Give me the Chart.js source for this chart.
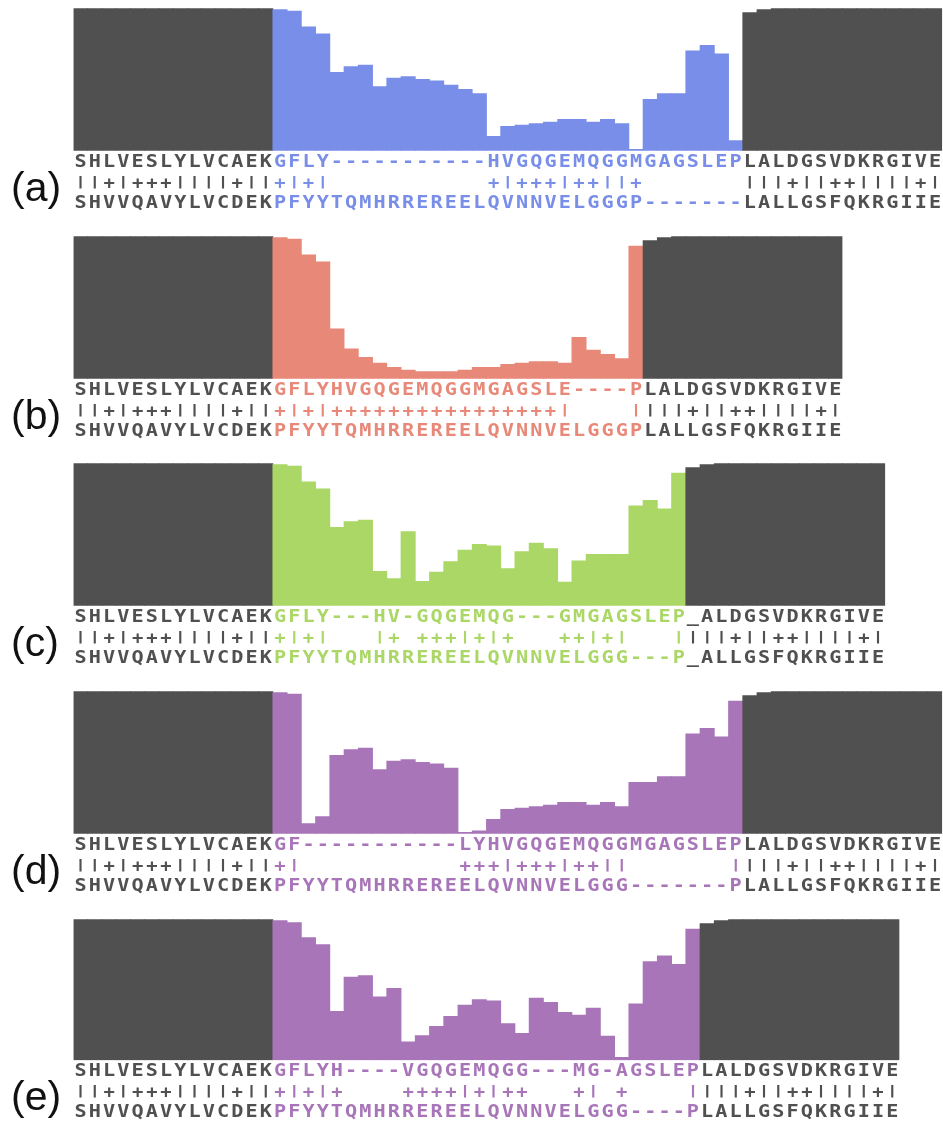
<!DOCTYPE html>
<html lang="en">
<head>
    <meta charset="UTF-8">
    <title>Alignment Profiles</title>
    <script src="https://cdn.jsdelivr.net/npm/chart.js"></script>
    <style>
        body {
            margin: 0;
            background: #fff;
            overflow: hidden;
        }
        #wrap {
            position: relative;
            width: 943px;
            height: 1124px;
        }
        canvas {
            position: absolute;
            left: 0;
        }
    </style>
</head>
<body>
    <div id="wrap"></div>

    <script>
        // panel labels and aligned sequences (one char per column)
        const panelLabels = ['(a)', '(b)', '(c)', '(d)', '(e)'];

        const seqTop = [
            'SHLVESLYLVCAEKGFLY-----------HVGQGEMQGGMGAGSLEPLALDGSVDKRGIVE',
            'SHLVESLYLVCAEKGFLYHVGQGEMQGGMGAGSLE----PLALDGSVDKRGIVE',
            'SHLVESLYLVCAEKGFLY---HV-GQGEMQG---GMGAGSLEP_ALDGSVDKRGIVE',
            'SHLVESLYLVCAEKGF-----------LYHVGQGEMQGGMGAGSLEPLALDGSVDKRGIVE',
            'SHLVESLYLVCAEKGFLYH----VGQGEMQGG---MG-AGSLEPLALDGSVDKRGIVE'
        ];
        const seqMatch = [
            '||+|+++||||+||+|+|           +|+++|++||+       |||+||++||||+|',
            '||+|+++||||+||+|+|++++++++++++++++|    ||||+||++||||+|',
            '||+|+++||||+||+|+|   |+ +++|+|+   ++|+|   ||||+||++||||+|',
            '||+|+++||||+||+|           +++|+++|++||       ||||+||++||||+|',
            '||+|+++||||+||+|+|+    ++++|+|++   +| +    ||||+||++||||+|'
        ];
        const seqBottom = [
            'SHVVQAVYLVCDEKPFYYTQMHRREREELQVNNVELGGGP-------LALLGSFQKRGIIE',
            'SHVVQAVYLVCDEKPFYYTQMHRREREELQVNNVELGGGPLALLGSFQKRGIIE',
            'SHVVQAVYLVCDEKPFYYTQMHRREREELQVNNVELGGG---P_ALLGSFQKRGIIE',
            'SHVVQAVYLVCDEKPFYYTQMHRREREELQVNNVELGGG-------PLALLGSFQKRGIIE',
            'SHVVQAVYLVCDEKPFYYTQMHRREREELQVNNVELGGG----PLALLGSFQKRGIIE'
        ];

        // bar heights (0-100) per column
        const flankLeft = [100, 100, 100, 100, 100, 100, 100, 100, 100, 100, 100, 100, 100, 100];
        const flankRight = [97, 99, 100, 100, 100, 100, 100, 100, 100, 100, 100, 100, 100, 100];

        const coreA = [99, 98, 87, 82, 55, 59, 60, 45, 51, 52, 50, 49, 46, 43, 40,
            10, 17, 18, 19, 20, 22, 22, 20, 22, 19, 1, 36, 40, 40, 70, 74, 68, 7];
        const coreB = [99, 98, 87, 82, 35, 21, 15, 11, 8, 6, 5, 5, 5, 6, 8, 8, 10,
            11, 12, 12, 11, 29, 20, 17, 14, 93];
        const coreC = [99, 98, 87, 82, 55, 59, 60, 24, 19, 52, 17, 23.5, 31, 39, 43,
            42, 26, 38, 44, 40, 16.5, 31.5, 36, 36, 36, 70, 74, 68, 93];
        const coreD = [99, 98, 7, 12, 55, 59, 60, 45, 51, 52, 50, 49, 46, 1, 2,
            10, 17, 18, 19, 20, 22, 22, 20, 22, 19, 36, 36, 40, 40, 70, 74, 68, 93];
        const coreE = [99, 97.7, 87, 82, 34.7, 59, 60, 45, 51, 13, 17.5, 24, 31, 39,
            43, 42, 26, 19, 44, 41, 34, 32, 37, 17, 2, 40, 70, 74, 68, 93];

        const cores = [coreA, coreB, coreC, coreD, coreE];
        const panelColors = ['#788ee8', '#e88878', '#aad766', '#a875b9', '#a875b9'];
        const flankColor = '#505050';
        const textGrey = '#505050';

        // layout
        const COL = 14.24;
        const LEFT = 73.5;
        const PANEL_H = 228;
        const panelTops = [0, 228, 455, 683, 909];

        function drawGlyph(ctx, ch, x, y, font, color, sx) {
            ctx.save();
            ctx.translate(x, y);
            ctx.scale(sx, 1);
            ctx.font = font;
            ctx.fillStyle = color;
            ctx.textAlign = 'center';
            ctx.textBaseline = 'alphabetic';
            ctx.fillText(ch, 0, 0);
            ctx.restore();
        }

        const alignText = {
            id: 'alignText',
            afterDraw(chart, args, opts) {
                const ctx = chart.ctx;
                const xs = chart.scales.x;
                const n = opts.top.length;
                const seqFont = 'bold 18px "DejaVu Sans Mono"';
                for (let i = 0; i < n; i++) {
                    const x = xs.getPixelForValue(i);
                    const col = (i >= 14 && i < n - 14) ? opts.color : textGrey;
                    drawGlyph(ctx, opts.top[i], x, 167, seqFont, col, 1.12);
                    drawGlyph(ctx, opts.bottom[i], x, 208, seqFont, col, 1.12);
                    const m = opts.match[i];
                    if (m === '|') {
                        drawGlyph(ctx, m, x, 185.5, 'bold 12px "DejaVu Sans Mono"', col, 1.6);
                    } else if (m === '+') {
                        drawGlyph(ctx, m, x, 189, 'bold 18px "DejaVu Sans Mono"', col, 1.05);
                    }
                }
                ctx.save();
                ctx.font = '41px "Liberation Sans", Arial, sans-serif';
                ctx.fillStyle = '#111';
                ctx.textAlign = 'left';
                ctx.textBaseline = 'alphabetic';
                ctx.fillText(opts.label, 11, 201);
                ctx.restore();
            }
        };

        const wrap = document.getElementById('wrap');

        cores.forEach((core, p) => {
            const values = flankLeft.concat(core, flankRight);
            const n = values.length;
            const labels = values.map((v, i) => i + 1);
            const colors = values.map((v, i) => (i >= 14 && i < n - 14) ? panelColors[p] : flankColor);

            const canvas = document.createElement('canvas');
            canvas.width = 943;
            canvas.height = PANEL_H;
            canvas.style.top = panelTops[p] + 'px';
            wrap.appendChild(canvas);

            new Chart(canvas.getContext('2d'), {
                type: 'bar',
                data: {
                    labels: labels,
                    datasets: [{
                        data: values,
                        backgroundColor: colors,
                        borderWidth: 0,
                        barPercentage: 1,
                        categoryPercentage: 1,
                        inflateAmount: 0.4
                    }]
                },
                options: {
                    responsive: false,
                    animation: false,
                    devicePixelRatio: 1,
                    layout: {
                        padding: {
                            left: LEFT,
                            right: 943 - LEFT - n * COL,
                            top: 8.3 + (p === 4 ? 2 : 0),
                            bottom: PANEL_H - 150.7 - (p === 4 ? 0.5 : 0)
                        }
                    },
                    scales: {
                        x: { display: false },
                        y: { display: false, min: 0, max: 100 }
                    },
                    plugins: {
                        legend: { display: false },
                        tooltip: { enabled: false },
                        alignText: {
                            label: panelLabels[p],
                            top: seqTop[p],
                            match: seqMatch[p],
                            bottom: seqBottom[p],
                            color: panelColors[p]
                        }
                    }
                },
                plugins: [alignText]
            });
        });
    </script>
</body>
</html>
